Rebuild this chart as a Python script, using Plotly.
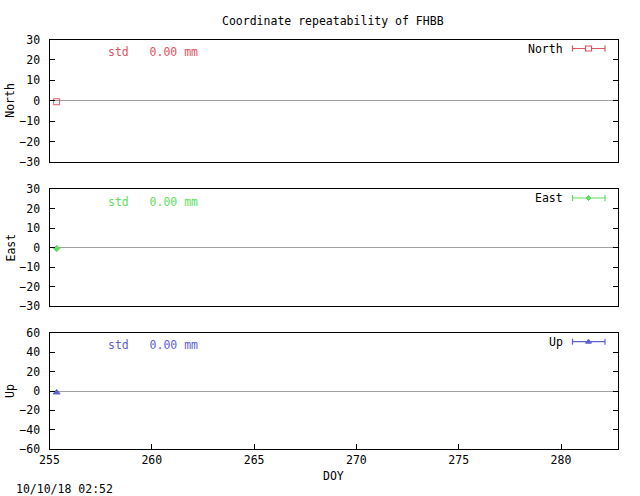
import plotly.graph_objects as go
from plotly.subplots import make_subplots

# ---- data ----
components = ["North", "East", "Up"]
doy = [255.35]
north_mm = [-0.5]
east_mm = [-0.5]
up_mm = [-1.5]
std_mm = [0.00, 0.00, 0.00]
y_ranges = [[-30, 30], [-30, 30], [-60, 60]]
y_dtick = [10, 10, 20]
x_range = [255, 282.8]
x_ticks = [255, 260, 265, 270, 275, 280]
title = "Coordinate repeatability of FHBB"
stamp = "10/10/18 02:52"

colors = ["rgb(222,84,96)", "rgb(96,222,96)", "rgb(96,96,212)"]
symbols = ["square-open", "diamond", "triangle-up"]
msizes = [6, 5, 6]
series = [north_mm, east_mm, up_mm]

W, H = 640, 496
FONT = "DejaVu Sans Mono"
FS = 11.5

def px(x):
    return x / W

def py(y):
    return 1 - y / H

# panel pixel boxes (top, bottom)
boxes = [(39.5, 162), (189, 306), (332.7, 449.3)]
xl, xr = 49.5, 618.3

fig = make_subplots(rows=3, cols=1)

for i in range(3):
    fig.add_trace(go.Scatter(
        x=doy, y=series[i], mode="markers",
        marker=dict(symbol=symbols[i], size=msizes[i], color=colors[i],
                    line=dict(color=colors[i], width=1)),
        error_y=dict(type="data", array=[0], color=colors[i], width=0),
        showlegend=False, name=components[i]), row=i + 1, col=1)

layout = dict(
    width=W, height=H,
    margin=dict(l=0, r=0, t=0, b=0, autoexpand=False),
    paper_bgcolor="white", plot_bgcolor="white",
    font=dict(family=FONT, size=FS, color="black"),
    showlegend=False,
)
for i in range(3):
    top, bot = boxes[i]
    xa = "xaxis" if i == 0 else f"xaxis{i+1}"
    ya = "yaxis" if i == 0 else f"yaxis{i+1}"
    last = (i == 2)
    layout[xa] = dict(
        domain=[px(xl), px(xr)], range=x_range, automargin=False,
        showline=True, linecolor="black", linewidth=1, mirror=True,
        showgrid=False, zeroline=False,
        ticks="inside" if last else "", ticklen=5, tickcolor="black",
        tickvals=x_ticks if last else [], showticklabels=last,
        tickfont=dict(family=FONT, size=FS),
    )
    layout[ya] = dict(
        domain=[py(bot), py(top)], range=y_ranges[i], automargin=False,
        showline=True, linecolor="black", linewidth=1, mirror="ticks",
        showgrid=False, zeroline=True, zerolinecolor="#a0a0a0", zerolinewidth=1,
        ticks="inside", ticklen=5, tickcolor="black",
        dtick=y_dtick[i], tick0=0,
        tickfont=dict(family=FONT, size=FS),
        ticklabelstandoff=6,
    )
fig.update_layout(**layout)

ann = []
ann.append(dict(text=title, x=px(333), y=py(21), xref="paper", yref="paper",
                showarrow=False, xanchor="center", yanchor="middle",
                font=dict(family=FONT, size=FS, color="black")))
ann.append(dict(text="DOY", x=px(333), y=py(476), xref="paper", yref="paper",
                showarrow=False, xanchor="center", yanchor="middle",
                font=dict(family=FONT, size=FS, color="black")))
ann.append(dict(text=stamp, x=px(14), y=py(489), xref="paper", yref="paper",
                showarrow=False, xanchor="left", yanchor="middle",
                font=dict(family=FONT, size=FS, color="black")))

for i in range(3):
    top, bot = boxes[i]
    mid = (top + bot) / 2
    ann.append(dict(text=components[i], x=px(10), y=py(mid), xref="paper", yref="paper",
                    showarrow=False, textangle=-90, xanchor="center", yanchor="middle",
                    font=dict(family=FONT, size=FS, color="black")))
    ann.append(dict(text="std&nbsp;&nbsp;&nbsp;%.2f mm" % std_mm[i], x=px(106), y=py(top + 12.5),
                    xref="paper", yref="paper", showarrow=False,
                    xanchor="left", yanchor="middle",
                    font=dict(family=FONT, size=FS, color=colors[i])))
    ly = top + 9
    ann.append(dict(text=components[i], x=px(565), y=py(ly), xref="paper", yref="paper",
                    showarrow=False, xanchor="right", yanchor="middle",
                    font=dict(family=FONT, size=FS, color="black")))
    # legend sample: error bar line with caps
    fig.add_shape(type="line", xref="paper", yref="paper",
                  x0=px(572.5), x1=px(605), y0=py(ly), y1=py(ly),
                  line=dict(color=colors[i], width=1.2))
    for cx in (572.5, 605):
        fig.add_shape(type="line", xref="paper", yref="paper",
                      x0=px(cx), x1=px(cx), y0=py(ly - 3), y1=py(ly + 3),
                      line=dict(color=colors[i], width=1.2))
    cx, cy = 588.5, ly
    if i == 0:
        fig.add_shape(type="rect", xref="paper", yref="paper",
                      x0=px(cx - 3), x1=px(cx + 3), y0=py(cy - 2.5), y1=py(cy + 2.5),
                      fillcolor="white", line=dict(color=colors[i], width=1.2))
    elif i == 1:
        path = "M %f,%f L %f,%f L %f,%f L %f,%f Z" % (
            px(cx - 2.5), py(cy), px(cx), py(cy - 2.5), px(cx + 2.5), py(cy), px(cx), py(cy + 2.5))
        fig.add_shape(type="path", xref="paper", yref="paper", path=path,
                      fillcolor=colors[i], line=dict(color=colors[i], width=1))
    else:
        path = "M %f,%f L %f,%f L %f,%f Z" % (
            px(cx - 3), py(cy + 1.5), px(cx), py(cy - 2.5), px(cx + 3), py(cy + 1.5))
        fig.add_shape(type="path", xref="paper", yref="paper", path=path,
                      fillcolor=colors[i], line=dict(color=colors[i], width=1))

fig.update_layout(annotations=ann)
fig.write_html("out.html", config={"displayModeBar": False},
               post_script="document.body.style.margin='0px';")
